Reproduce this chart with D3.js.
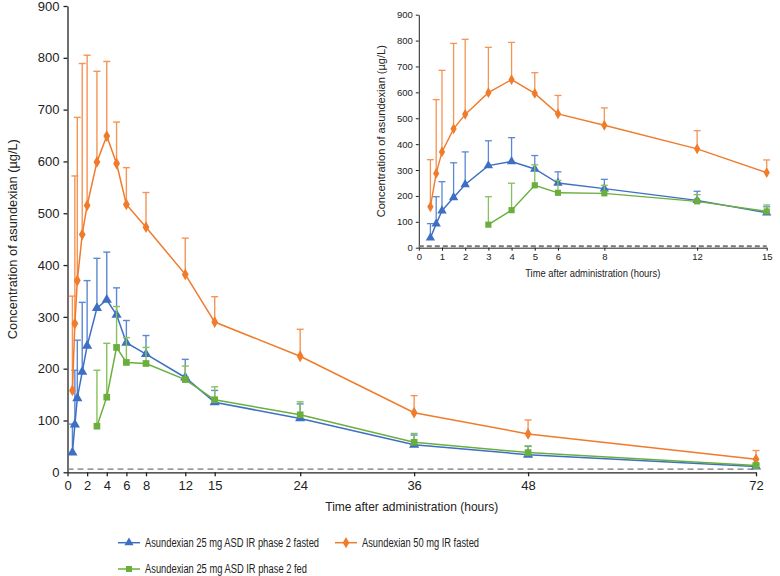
<!DOCTYPE html>
<html><head><meta charset="utf-8">
<script src="https://cdn.jsdelivr.net/npm/d3@7"></script>
<style>
body{margin:0;background:#fff;}
svg{display:block;font-family:"Liberation Sans",Arial,Helvetica,sans-serif;}
</style></head>
<body><svg id="c" width="780" height="576"></svg>
<script>
// ---- data ----
const timesFasted = [0.5, 0.75, 1, 1.5, 2, 3, 4, 5, 6, 8, 12, 15, 24, 36, 48, 72];
const timesFed = [3, 4, 5, 6, 8, 12, 15, 24, 36, 48, 72];

const orangeMean = [158, 287, 370, 459, 515, 599, 649, 596, 517, 473, 382, 290, 224, 115, 74, 25];
const orangeUpper = [340, 572, 685, 789, 805, 774, 793, 676, 588, 540, 452, 339, 276, 148, 101, 42];

const blueMean = [38, 92, 143, 194, 244, 317, 333, 304, 250, 228, 183, 135, 104, 53, 34, 11];
const blueUpper = [93, 197, 255, 328, 370, 413, 425, 356, 293, 264, 218, 158, 132, 72, 50, 15];

const greenMean = [89, 145, 241, 212, 210, 179, 140, 111, 58, 38, 13];
const greenUpper = [197, 249, 320, 260, 241, 205, 165, 136, 75, 51, 18];

const lloq = 6;

const mainXTicks = [0, 2, 4, 6, 8, 12, 15, 24, 36, 48, 72];
const insetXTicks = [0, 1, 2, 3, 4, 5, 6, 8, 12, 15];
const yTicks = [0, 100, 200, 300, 400, 500, 600, 700, 800, 900];

const seriesNames = [
  "Asundexian 25 mg ASD IR phase 2 fasted",
  "Asundexian 50 mg IR fasted",
  "Asundexian 25 mg ASD IR phase 2 fed"
];
const xTitle = "Time after administration (hours)";
const yTitle = "Concentration of asundexian (\u00b5g/L)";

// ---- styles ----
const colors = {blue:"#3d6fc4", orange:"#f07b2b", green:"#6aaf3d"};
const errColors = {blue:"#5b88d2", orange:"#f49455", green:"#86c15c"};

const series = [
  {key:"blue", name:seriesNames[0], t:timesFasted, m:blueMean, u:blueUpper, sym:d3.symbolTriangle},
  {key:"orange", name:seriesNames[1], t:timesFasted, m:orangeMean, u:orangeUpper, sym:d3.symbolDiamond},
  {key:"green", name:seriesNames[2], t:timesFed, m:greenMean, u:greenUpper, sym:d3.symbolSquare}
];

const svg = d3.select("#c");

function drawPanel(g, x, y, opt){
  const [x0, x1] = [x.range()[0], x.range()[x.range().length-1]];
  const tMax = x.domain()[x.domain().length-1];
  // axes
  const yAxis = d3.axisLeft(y).tickValues(yTicks).tickSize(opt.tick).tickPadding(opt.pad).tickSizeOuter(0);
  const xAxis = d3.axisBottom(x).tickValues(opt.xTicks).tickSize(opt.tick).tickPadding(opt.pad).tickSizeOuter(0);
  const ya = g.append("g").attr("transform", `translate(${x0},0)`).call(yAxis);
  const xa = g.append("g").attr("transform", `translate(0,${y(0)})`).call(xAxis);
  [ya, xa].forEach(a => {
    a.select(".domain").attr("stroke", "#222").attr("stroke-width", opt.axisW);
    a.selectAll(".tick line").attr("stroke", "#222").attr("stroke-width", opt.axisW);
    a.selectAll("text").attr("fill", "#222").style("font-size", opt.tickFont + "px");
  });
  // LLOQ dashed
  g.append("line").attr("x1", x0).attr("x2", x1).attr("y1", y(lloq)).attr("y2", y(lloq))
    .attr("stroke", "#777").attr("stroke-width", opt.dashW).attr("stroke-dasharray", opt.dash);
  // series
  series.forEach(s => {
    const pts = s.t.map((t, i) => ({t, m:s.m[i], u:s.u[i]})).filter(d => d.t <= tMax);
    const eg = g.append("g");
    eg.selectAll("line.v").data(pts).join("line")
      .attr("x1", d => x(d.t)).attr("x2", d => x(d.t))
      .attr("y1", d => y(d.m)).attr("y2", d => y(d.u))
      .attr("stroke", errColors[s.key]).attr("stroke-width", opt.errW);
    eg.selectAll("line.c").data(pts).join("line")
      .attr("x1", d => x(d.t) - opt.cap).attr("x2", d => x(d.t) + opt.cap)
      .attr("y1", d => y(d.u)).attr("y2", d => y(d.u))
      .attr("stroke", errColors[s.key]).attr("stroke-width", opt.errW);
    g.append("path").datum(pts)
      .attr("d", d3.line().x(d => x(d.t)).y(d => y(d.m)))
      .attr("fill", "none").attr("stroke", colors[s.key]).attr("stroke-width", opt.lineW);
    g.append("g").selectAll("path").data(pts).join("path")
      .attr("transform", d => `translate(${x(d.t)},${y(d.m)})`)
      .attr("d", d3.symbol().type(s.sym).size(opt.symSize[s.key]))
      .attr("fill", colors[s.key]);
  });
  // titles
  g.append("text").attr("x", (x0 + x1) / 2).attr("y", opt.xTitleY)
    .attr("text-anchor", "middle").attr("fill", "#222").style("font-size", opt.titleFont + "px")
    .attr("textLength", opt.xTitleLen).attr("lengthAdjust", "spacingAndGlyphs").text(xTitle);
  const yc = (y(0) + y(900)) / 2;
  g.append("text").attr("transform", `translate(${opt.yTitleX},${yc}) rotate(-90)`)
    .attr("text-anchor", "middle").attr("fill", "#222").style("font-size", opt.titleFont + "px")
    .attr("textLength", opt.yTitleLen).attr("lengthAdjust", "spacingAndGlyphs").text(yTitle);
}

// main chart
const xMain = d3.scaleLinear().domain([0, 15, 72]).range([67.5, 214.7, 756]);
const yMain = d3.scaleLinear().domain([0, 900]).range([472.3, 6]);
drawPanel(svg.append("g"), xMain, yMain, {
  tick:4, pad:4, axisW:1.3, tickFont:13, dash:"6,4", dashW:1.2, errW:1.4, cap:3.5, lineW:1.5,
  symSize:{blue:45, orange:40, green:45}, xTicks:mainXTicks,
  xTitleY:511, titleFont:13.5, xTitleLen:173, yTitleX:17, yTitleLen:200
});

// inset chart
const xIn = d3.scaleLinear().domain([0, 15]).range([418.8, 766.7]);
const yIn = d3.scaleLinear().domain([0, 900]).range([247.7, 14.7]);
drawPanel(svg.append("g"), xIn, yIn, {
  tick:3, pad:3, axisW:1, tickFont:9.5, dash:"5,3", dashW:2, errW:1.3, cap:3.5, lineW:1.4,
  symSize:{blue:38, orange:34, green:38}, xTicks:insetXTicks,
  xTitleY:277, titleFont:10.5, xTitleLen:135, yTitleX:385, yTitleLen:172
});

// legend
const legendItems = [
  {s:series[0], x:118, y:542.7, len:174},
  {s:series[1], x:335, y:542.7, len:117},
  {s:series[2], x:118, y:569, len:162}
];
const lg = svg.append("g");
legendItems.forEach(it => {
  const g = lg.append("g").attr("transform", `translate(${it.x},${it.y})`);
  g.append("line").attr("x1", 0).attr("x2", 22).attr("stroke", colors[it.s.key]).attr("stroke-width", 1.5);
  g.append("path").attr("transform", "translate(11,0)")
    .attr("d", d3.symbol().type(it.s.sym).size(36)).attr("fill", colors[it.s.key]);
  g.append("text").attr("x", 27).attr("y", 0).attr("dy", "0.35em").attr("fill", "#222")
    .style("font-size", "12px").attr("textLength", it.len).attr("lengthAdjust", "spacingAndGlyphs")
    .text(it.s.name);
});
</script></body></html>
